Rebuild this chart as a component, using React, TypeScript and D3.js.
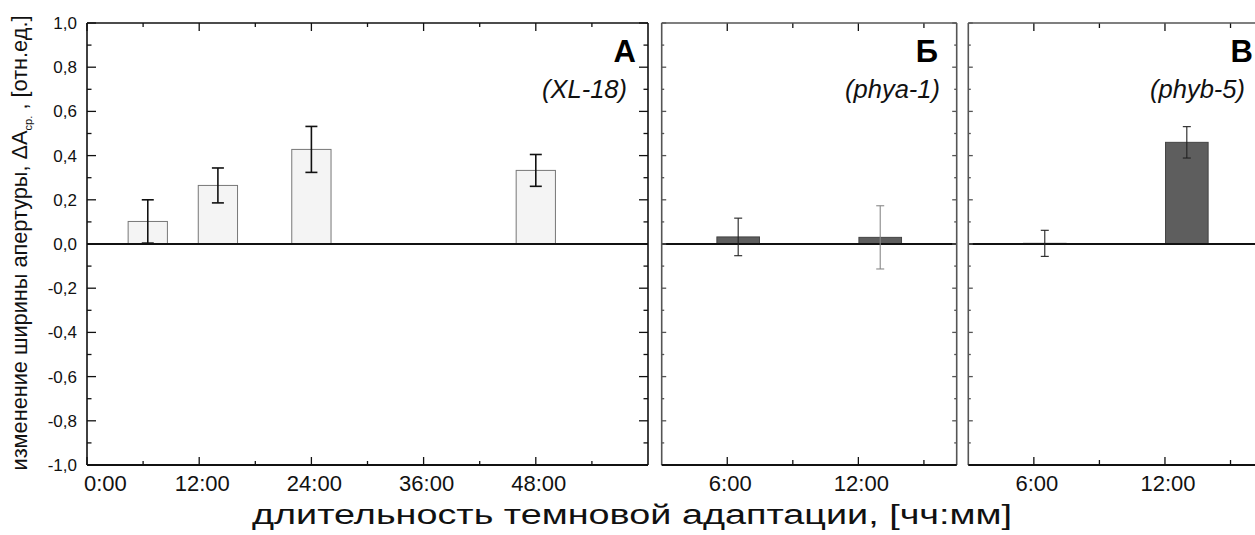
import React from "react";
import * as d3 from "d3";

// ---- data ----
const timesA = [6.5, 14, 24, 48];
const valuesA = [0.102, 0.265, 0.428, 0.333];
const errorsA = [0.098, 0.079, 0.104, 0.072];

const timesB = [6.5, 13];
const valuesB = [0.032, 0.03];
const errorsB = [0.085, 0.143];

const timesC = [6.5, 13];
const valuesC = [0.003, 0.46];
const errorsC = [0.059, 0.071];

const yTicks = [-1, -0.8, -0.6, -0.4, -0.2, 0, 0.2, 0.4, 0.6, 0.8, 1];
const yMinorTicks = [-0.9, -0.7, -0.5, -0.3, -0.1, 0.1, 0.3, 0.5, 0.7, 0.9];
const xTicksA = [0, 12, 24, 36, 48];
const xMinorA = [6, 18, 30, 42, 54];
const xTicksBC = [6, 12];
const xMinorBC = [9, 15];

const fmtY = (v: number) => d3.format(".1f")(v).replace(".", ",").replace("−", "-");
const fmtH = (h: number) => `${h}:00`;

const FONT = "Arial, 'Liberation Sans', sans-serif";

const W = 1255, H = 535;
const top = 23, bottom = 465;
const y = d3.scaleLinear().domain([-1, 1]).range([bottom, top]);

type Panel = {
  x: d3.ScaleLinear<number, number>;
  times: number[]; values: number[]; errors: number[];
  barW: number; fill: string; stroke: string; errColors: string[]; errW: number; capW: number;
  major: number[]; minor: number[];
  letter: string; letterX: number; strain: string; strainX: number;
  borderColor: string; yTickLen: [number, number]; xTickLen: [number, number];
  firstLabelStart?: boolean;
};

const panels: Panel[] = [
  {
    x: d3.scaleLinear().domain([0, 60]).range([87, 648]),
    times: timesA, values: valuesA, errors: errorsA,
    barW: 4.2, fill: "#f4f4f4", stroke: "#777", errColors: ["#111", "#111", "#111", "#111"], errW: 1.6, capW: 12,
    major: xTicksA, minor: xMinorA,
    letter: "А", letterX: 636, strain: "(XL-18)", strainX: 627,
    borderColor: "#111", yTickLen: [9, 4.5], xTickLen: [8, 4], firstLabelStart: true,
  },
  {
    x: d3.scaleLinear().domain([3, 16.5]).range([661.7, 956.7]),
    times: timesB, values: valuesB, errors: errorsB,
    barW: 1.95, fill: "#5e5e5e", stroke: "#444", errColors: ["#222", "#888"], errW: 1.1, capW: 8,
    major: xTicksBC, minor: xMinorBC,
    letter: "Б", letterX: 938, strain: "(phya-1)", strainX: 940,
    borderColor: "#555", yTickLen: [4.5, 2.5], xTickLen: [8, 5],
  },
  {
    x: d3.scaleLinear().domain([3, 16.5]).range([968.3, 1263.3]),
    times: timesC, values: valuesC, errors: errorsC,
    barW: 1.95, fill: "#5e5e5e", stroke: "#444", errColors: ["#222", "#222"], errW: 1.1, capW: 8,
    major: xTicksBC, minor: xMinorBC,
    letter: "В", letterX: 1253, strain: "(phyb-5)", strainX: 1245,
    borderColor: "#555", yTickLen: [4.5, 2.5], xTickLen: [8, 5],
  },
];

function PanelView({ p, showYLabels }: { p: Panel; showYLabels: boolean }) {
  const [x0, x1] = p.x.range();
  const bw = p.x(p.x.domain()[0] + p.barW) - x0;
  return (
    <g>
      {/* bars */}
      {p.times.map((t, i) => {
        const v = p.values[i];
        const yy = y(Math.max(v, 0));
        const h = Math.abs(y(v) - y(0));
        return (
          <rect key={"b" + i} x={p.x(t) - bw / 2} y={yy} width={bw} height={Math.max(h, 0.8)}
            fill={p.fill} stroke={p.stroke} strokeWidth={1} />
        );
      })}
      {/* zero line */}
      <line x1={x0} x2={x1} y1={y(0)} y2={y(0)} stroke="#111" strokeWidth={1.8} />
      {/* error bars */}
      {p.times.map((t, i) => {
        const cx = p.x(t);
        const hi = y(p.values[i] + p.errors[i]);
        const lo = y(p.values[i] - p.errors[i]);
        const c = p.errColors[i];
        return (
          <g key={"e" + i} stroke={c} strokeWidth={p.errW}>
            <line x1={cx} x2={cx} y1={hi} y2={lo} />
            <line x1={cx - p.capW / 2} x2={cx + p.capW / 2} y1={hi} y2={hi} />
            <line x1={cx - p.capW / 2} x2={cx + p.capW / 2} y1={lo} y2={lo} />
          </g>
        );
      })}
      {/* y ticks left & right (inward) */}
      {yTicks.map((v) => (
        <g key={"yt" + v} stroke={p.borderColor} strokeWidth={1.3}>
          <line x1={x0} x2={x0 + p.yTickLen[0]} y1={y(v)} y2={y(v)} />
          <line x1={x1} x2={x1 - p.yTickLen[0]} y1={y(v)} y2={y(v)} />
        </g>
      ))}
      {yMinorTicks.map((v) => (
        <g key={"ym" + v} stroke={p.borderColor} strokeWidth={1.3}>
          <line x1={x0} x2={x0 + p.yTickLen[1]} y1={y(v)} y2={y(v)} />
          <line x1={x1} x2={x1 - p.yTickLen[1]} y1={y(v)} y2={y(v)} />
        </g>
      ))}
      {/* x ticks bottom & top */}
      {p.major.map((t) => (
        <g key={"xt" + t} stroke="#111" strokeWidth={1.3}>
          <line x1={p.x(t)} x2={p.x(t)} y1={bottom} y2={bottom - p.xTickLen[0]} />
          <line x1={p.x(t)} x2={p.x(t)} y1={top} y2={top + p.xTickLen[0]} />
        </g>
      ))}
      {p.minor.map((t) => (
        <g key={"xm" + t} stroke="#111" strokeWidth={1.3}>
          <line x1={p.x(t)} x2={p.x(t)} y1={bottom} y2={bottom - p.xTickLen[1]} />
          <line x1={p.x(t)} x2={p.x(t)} y1={top} y2={top + p.xTickLen[1]} />
        </g>
      ))}
      {/* frame */}
      <line x1={x0} x2={x1} y1={top} y2={top} stroke={p.borderColor} strokeWidth={1.6} />
      <line x1={x0} x2={x0} y1={top} y2={bottom} stroke={p.borderColor} strokeWidth={1.6} />
      <line x1={x1} x2={x1} y1={top} y2={bottom} stroke={p.borderColor} strokeWidth={1.6} />
      <line x1={x0} x2={x1} y1={bottom} y2={bottom} stroke="#111" strokeWidth={2} />
      {/* x tick labels */}
      {p.major.map((t, i) => (
        <text key={"xl" + t}
          x={p.firstLabelStart && i === 0 ? p.x(t) - 3 : p.x(t) + 3}
          y={491} fontSize={22} fontFamily={FONT}
          textAnchor={p.firstLabelStart && i === 0 ? "start" : "middle"} fill="#111">
          {fmtH(t)}
        </text>
      ))}
      {/* y tick labels */}
      {showYLabels && yTicks.map((v) => (
        <text key={"yl" + v} x={77} y={y(v) + 6} fontSize={17} fontFamily={FONT} textAnchor="end" fill="#111">
          {fmtY(v)}
        </text>
      ))}
      {/* annotations */}
      <text x={p.letterX} y={62} fontSize={31} fontWeight="bold" fontFamily={FONT} textAnchor="end" fill="#000">
        {p.letter}
      </text>
      <text x={p.strainX} y={98} fontSize={25.5} fontStyle="italic" fontFamily={FONT} textAnchor="end" fill="#111">
        {p.strain}
      </text>
    </g>
  );
}

export default function App() {
  return (
    <svg width={W} height={H} style={{ position: "absolute", left: 0, top: 0, background: "#fff" }}>
      <rect width={W} height={H} fill="#fff" />
      {panels.map((p, i) => (
        <PanelView key={i} p={p} showYLabels={i === 0} />
      ))}
      <text transform={`translate(27, 243) rotate(-90)`} textAnchor="middle"
        fontSize={21.5} fontFamily={FONT} fill="#111" textLength={455} lengthAdjust="spacingAndGlyphs">
        изменение ширины апертуры, ΔA<tspan fontSize={11} dy={5}>ср.</tspan><tspan dy={-5}> , [отн.ед.]</tspan>
      </text>
      <text x={632} y={524} textAnchor="middle" fontSize={27} fontFamily={FONT} fill="#111"
        textLength={760} lengthAdjust="spacingAndGlyphs">
        длительность темновой адаптации, [чч:мм]
      </text>
    </svg>
  );
}
